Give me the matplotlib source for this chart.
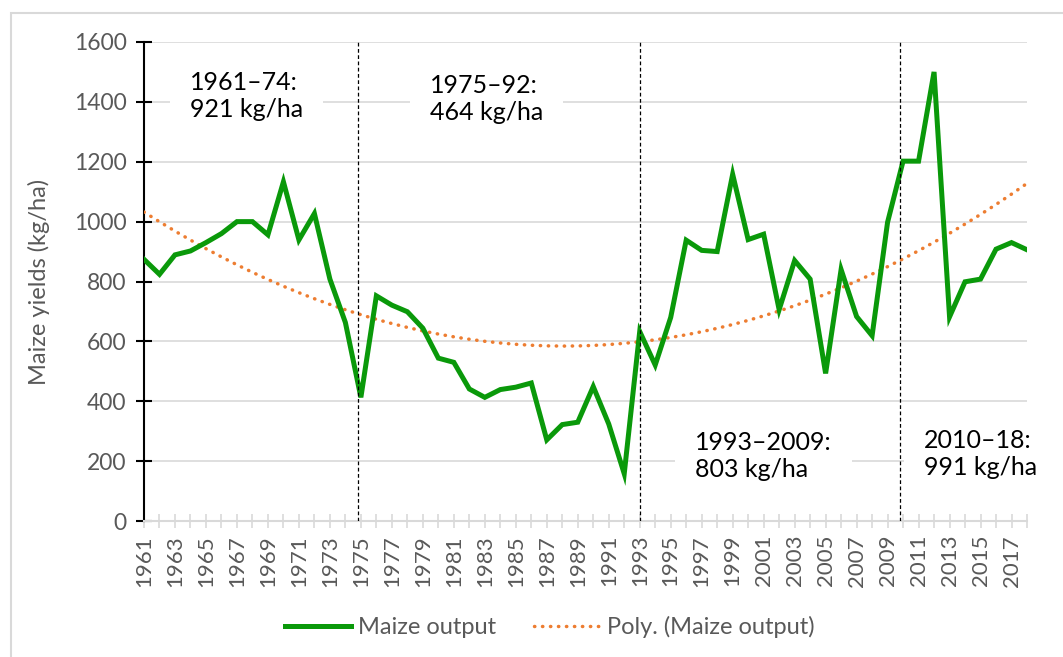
import matplotlib
matplotlib.use('Agg')
import matplotlib.pyplot as plt
import matplotlib.patches as mplpatches
import numpy as np

plt.rcParams['font.family'] = ['Lato', 'DejaVu Sans']

# Maize yields (kg/ha)
years = list(range(1961, 2019))
maize = [874, 824, 889, 902, 930, 960, 1000, 1000, 956, 1133, 939, 1027, 808, 663,
         413, 752, 721, 699, 644, 544, 530, 441, 413, 439, 447, 461, 271, 322, 330,
         449, 324, 158,
         633, 521, 680, 938, 904, 900, 1158, 940, 958, 706, 870, 808, 493, 840, 683,
         619, 998,
         1202, 1202, 1500, 682, 799, 808, 908, 930, 906]

# period split lines and period labels
dividers = [1974.8, 1993.0, 2009.8]
periodText = ['1961\u201374:\n921 kg/ha', '1975\u201392:\n464 kg/ha',
              '1993\u20132009:\n803 kg/ha', '2010\u201318:\n991 kg/ha']
periodX = [1967.6, 1983.1, 2001.0, 2015.0]
periodY = [1420, 1410, 217, 224]

yTicks = list(range(0, 1601, 200))

# 2nd order polynomial trend, as Excel does
idx = np.arange(1, len(years) + 1)
coef = np.polyfit(idx, maize, 2)
trend = np.polyval(coef, idx)

figureWidth = 10.63
figureHeight = 6.57
fig = plt.figure(figsize=(figureWidth, figureHeight), dpi=100)
ax = fig.add_axes([144/1063, 1 - 521/657, 883/1063, 479/657])

# chart area border (right/bottom sides cut off in the reference)
fig.patches.append(mplpatches.Rectangle((11/1063, -0.1), 1.2, 1.1 - 13/657,
                                        transform=fig.transFigure, fill=False,
                                        edgecolor='#d9d9d9', linewidth=1.5))

ax.set_xlim(years[0], years[-1])
ax.set_ylim(0, 1600)
ax.set_yticks(yTicks)
ax.grid(axis='y', color='#d9d9d9', linewidth=1.2, zorder=0)
ax.set_axisbelow(True)

ax.set_xticks(years)
ax.set_xticklabels([str(y) if (y - 1961) % 2 == 0 else '' for y in years],
                   rotation=90)

for side in ['top', 'right']:
    ax.spines[side].set_visible(False)
ax.spines['left'].set_color('black')
ax.spines['left'].set_linewidth(1.5)
ax.spines['bottom'].set_color('#d9d9d9')
ax.spines['bottom'].set_linewidth(1.5)

ax.tick_params(axis='y', direction='inout', length=11, width=1.5, color='black',
               labelsize=16.5, labelcolor='#595959', pad=7)
ax.tick_params(axis='x', direction='inout', length=10, width=1.2, color='#d9d9d9',
               labelsize=16, labelcolor='#595959', pad=5)

ax.set_ylabel('Maize yields (kg/ha)', fontsize=17, color='#595959')
ax.yaxis.set_label_coords(-0.106, 0.5)

for d in dividers:
    ax.axvline(d, color='black', linewidth=0.9, linestyle=(0, (3, 2)), zorder=6)

ax.plot(years, maize, color='#0a990a', linewidth=3.6, zorder=4,
        solid_joinstyle='miter', label='Maize output')
ax.plot(years, trend, color='#ed7d31', linewidth=2.5, linestyle=(0, (0.1, 2.2)),
        dash_capstyle='round', zorder=3, label='Poly. (Maize output)')

for txt, tx, ty in zip(periodText, periodX, periodY):
    ax.text(tx, ty, txt, fontsize=18, color='black', ha='center', va='center',
            multialignment='left', linespacing=1.25, zorder=5,
            bbox=dict(boxstyle='square,pad=0.8', facecolor='white', edgecolor='none'))

fig.legend(loc='center', bbox_to_anchor=(0.517, 0.046), ncol=2, frameon=False,
           fontsize=17, labelcolor='#595959', handlelength=2.8,
           handletextpad=0.3, columnspacing=1.6)

plt.savefig('out.png', dpi=100)
